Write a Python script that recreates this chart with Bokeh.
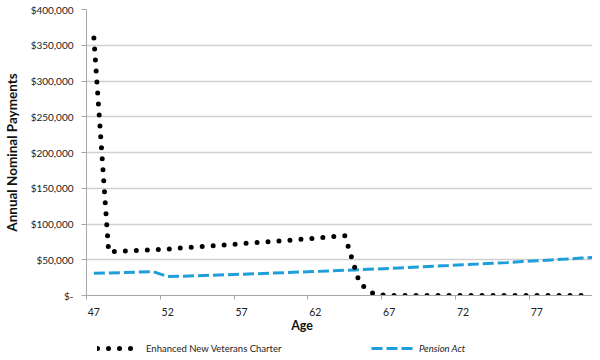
from bokeh.plotting import figure
from bokeh.layouts import column
from bokeh.models import FixedTicker, Legend, LegendItem, Label, Range1d
from bokeh.embed import file_html
from bokeh.resources import INLINE

# ---- data ----
charter_ages = [47, 48, 49, 50, 51, 52, 53, 54, 55, 56, 57, 58, 59, 60, 61, 62, 63,
                64, 65, 66, 67, 68, 69, 70, 71, 72, 73, 74, 75, 76, 77, 78, 79, 80]
charter = [360000, 61000, 62000, 63000, 64000, 65000, 66500, 68000, 69500, 71000,
           72500, 74000, 75500, 77000, 78500, 80000, 82000, 83500, 17000, 1500,
           0, 0, 0, 0, 0, 0, 0, 0, 0, 0, 0, 0, 0, 0]
pension_ages = [47, 48, 49, 50, 51, 52, 53, 54, 55, 56, 57, 58, 59, 60, 61, 62, 63,
                64, 65, 66, 67, 68, 69, 70, 71, 72, 73, 74, 75, 76, 77, 78, 79, 80, 81]
pension = [31000, 31500, 32000, 32800, 33500, 26500, 27000, 27600, 28300, 29000,
           29700, 30400, 31200, 32000, 32800, 33600, 34400, 35200, 36100, 37000,
           37900, 38900, 39900, 40900, 41900, 43000, 44000, 45100, 46200, 47400,
           48600, 49800, 51000, 52300, 53600]
x_ticks = [47, 52, 57, 62, 67, 72, 77]
x_tick_labels = ["47", "52", "57", "62", "67", "72", "77"]
x_tick_marks = [46.5, 51.5, 56.5, 61.5, 66.5, 71.5, 76.5]
y_ticks = [0, 50000, 100000, 150000, 200000, 250000, 300000, 350000, 400000]
y_tick_labels = ["$-", "$50,000", "$100,000", "$150,000", "$200,000",
                 "$250,000", "$300,000", "$350,000", "$400,000"]
series_names = ["Enhanced New Veterans Charter", "Pension Act"]

FONT = "Lato"
BLUE = "#1E9FDB"
GRID = "#d0d0d0"
AXIS = "#a6a6a6"
TXT = "#222222"

x_range = Range1d(46.5, 80.77)

p = figure(width=592, height=318, output_backend="svg", toolbar_location=None,
           x_range=x_range, y_range=Range1d(0, 400000),
           min_border_left=78, min_border_right=0, min_border_top=9,
           min_border_bottom=21)
p.outline_line_color = None

pen_style = dict(line_color=BLUE, line_width=3, line_dash="11 4", line_cap="butt")
ch_style = dict(line_color="black", line_width=5, line_dash="0 11",
                line_cap="round", line_join="round")

p.line(pension_ages, pension, **pen_style)
p.line(charter_ages, charter, **ch_style)

# grid
p.xgrid.visible = False
p.ygrid.ticker = FixedTicker(ticks=y_ticks)
p.ygrid.grid_line_color = GRID
p.ygrid.grid_line_width = 1.3

# x axis
p.xaxis.ticker = FixedTicker(ticks=x_ticks, minor_ticks=x_tick_marks)
p.xaxis.major_label_overrides = {t: l for t, l in zip(x_ticks, x_tick_labels)}
p.xaxis.major_tick_out = 0
p.xaxis.major_tick_in = 0
p.xaxis.minor_tick_out = 4
p.xaxis.minor_tick_in = 0
p.xaxis.minor_tick_line_color = AXIS
p.xaxis.axis_line_color = AXIS
p.xaxis.major_label_standoff = 8
p.xaxis.major_label_text_font = FONT
p.xaxis.major_label_text_font_size = "10.5px"
p.xaxis.major_label_text_color = TXT

# y axis
p.yaxis.ticker = FixedTicker(ticks=y_ticks)
p.yaxis.major_label_overrides = {t: l for t, l in zip(y_ticks, y_tick_labels)}
p.yaxis.major_tick_out = 5
p.yaxis.major_tick_in = 0
p.yaxis.minor_tick_line_color = None
p.yaxis.major_tick_line_color = AXIS
p.yaxis.axis_line_color = AXIS
p.yaxis.major_label_standoff = 8
p.yaxis.major_label_text_font = FONT
p.yaxis.major_label_text_font_size = "10px"
p.yaxis.major_label_text_color = TXT
p.yaxis.axis_label = "Annual Nominal Payments"
p.yaxis.axis_label_text_font = FONT
p.yaxis.axis_label_text_font_size = "13.5px"
p.yaxis.axis_label_text_font_style = "bold"
p.yaxis.axis_label_text_color = "#111111"
p.yaxis.axis_label_standoff = 8

# ---- lower strip: axis title and legend (same series, outside its y-range) ----
p2 = figure(width=592, height=40, output_backend="svg", toolbar_location=None,
            x_range=x_range, y_range=Range1d(-2, -1),
            x_axis_type=None, y_axis_type=None,
            min_border_left=78, min_border_right=0, min_border_top=0,
            min_border_bottom=0)
p2.outline_line_color = None
p2.grid.visible = False

d_ch = p2.line(charter_ages, charter, **ch_style)
d_pen = p2.line(pension_ages, pension, **pen_style)

p2.add_layout(Label(x=61.1, y=-1.175, text="Age", text_font=FONT,
                    text_font_size="12.5px", text_font_style="bold",
                    text_color="#111111", text_align="center",
                    text_baseline="middle"))

leg1 = Legend(items=[LegendItem(label=series_names[0], renderers=[d_ch])],
              location=(11, 4), glyph_width=44, glyph_height=12,
              label_height=12, label_standoff=5, padding=0, margin=0,
              border_line_color=None, background_fill_alpha=0,
              label_text_font=FONT, label_text_font_size="9.5px",
              label_text_color=TXT)
leg2 = Legend(items=[LegendItem(label=series_names[1], renderers=[d_pen])],
              location=(285, 4), glyph_width=42, glyph_height=12,
              label_height=12, label_standoff=6, padding=0, margin=0,
              border_line_color=None, background_fill_alpha=0,
              label_text_font=FONT, label_text_font_size="9.5px",
              label_text_font_style="italic", label_text_color=TXT)
p2.add_layout(leg1)
p2.add_layout(leg2)

layout = column(p, p2, spacing=0)
open("out.html", "w").write(file_html(layout, INLINE))
